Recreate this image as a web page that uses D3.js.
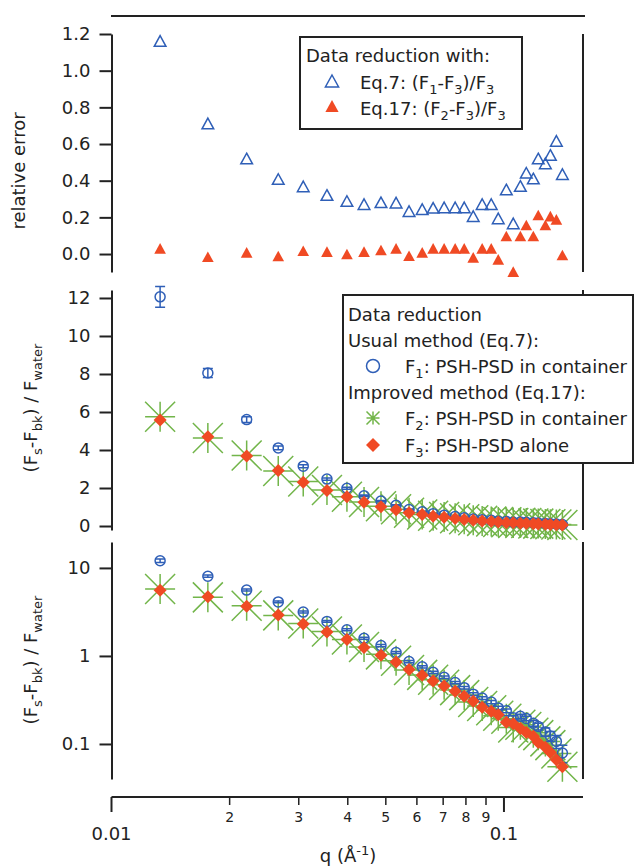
<!DOCTYPE html>
<html>
<head>
<meta charset="utf-8">
<script src="https://cdn.jsdelivr.net/npm/d3@7"></script>
<style>
  body { margin: 0; background: #fff; }
  svg { display: block; }
  text { font-family: "DejaVu Sans", sans-serif; fill: #222; }
</style>
</head>
<body>
<svg id="chart" width="635" height="868"></svg>
<script>
// scattering vector q (1/A), one entry per measured point
var q = [0.0133, 0.0176, 0.0221, 0.0266, 0.0308, 0.0354, 0.0398, 0.0440, 0.0486, 0.0531,
         0.0573, 0.0619, 0.0660, 0.0704, 0.0751, 0.0792, 0.0835, 0.0880, 0.0928, 0.0967,
         0.1014, 0.1056, 0.1101, 0.1140, 0.1188, 0.1223, 0.1275, 0.1313, 0.1360, 0.1409];

// relative errors (top panel)
var relEq7  = [1.162, 0.712, 0.521, 0.409, 0.369, 0.322, 0.289, 0.272, 0.282, 0.280,
               0.234, 0.245, 0.252, 0.254, 0.254, 0.254, 0.207, 0.272, 0.272, 0.194,
               0.352, 0.167, 0.371, 0.443, 0.412, 0.521, 0.494, 0.540, 0.617, 0.436];
var relEq17 = [0.031, -0.015, 0.009, -0.011, 0.018, 0.013, 0.000, 0.013, 0.022, 0.031,
               -0.009, 0.009, 0.031, 0.031, 0.031, 0.031, -0.018, 0.031, 0.031, -0.029,
               0.098, -0.096, 0.098, 0.158, 0.098, 0.213, 0.158, 0.207, 0.189, -0.005];

// (Fs-Fbk)/Fwater curves
var F1    = [12.06, 8.05, 5.60, 4.11, 3.15, 2.47, 1.985, 1.59, 1.31, 1.094,
             0.864, 0.752, 0.651, 0.572, 0.498, 0.436, 0.368, 0.333, 0.299, 0.257,
             0.238, 0.198, 0.206, 0.195, 0.172, 0.158, 0.137, 0.123, 0.107, 0.079];
var F1err = [0.55, 0.24, 0.15, 0.10, 0.08, 0.06, 0.05, 0.04, 0.035, 0.03,
             0.025, 0.022, 0.02, 0.018, 0.016, 0.015, 0.013, 0.012, 0.012, 0.011,
             0.011, 0.011, 0.012, 0.012, 0.013, 0.014, 0.015, 0.016, 0.018, 0.018];
var F2    = [5.75, 4.63, 3.71, 2.89, 2.34, 1.894, 1.54, 1.266, 1.042, 0.881,
             0.694, 0.609, 0.536, 0.470, 0.409, 0.359, 0.300, 0.270, 0.242, 0.209,
             0.193, 0.154, 0.165, 0.156, 0.134, 0.126, 0.107, 0.097, 0.078, 0.055];
var F3    = [5.58, 4.70, 3.68, 2.92, 2.30, 1.87, 1.54, 1.25, 1.02, 0.855,
             0.70, 0.604, 0.52, 0.456, 0.397, 0.348, 0.305, 0.262, 0.235, 0.215,
             0.176, 0.170, 0.150, 0.135, 0.122, 0.104, 0.092, 0.080, 0.066, 0.055];

// ticks
var relTicks = [0, 0.2, 0.4, 0.6, 0.8, 1.0, 1.2];
var linTicks = [0, 2, 4, 6, 8, 10, 12];
var logTicks = [0.1, 1, 10];
var xMajorTicks = [0.01, 0.1];
var xMajorLabels = ["0.01", "0.1"];
var xMinorTicks = [0.02, 0.03, 0.04, 0.05, 0.06, 0.07, 0.08, 0.09];
var xMinorLabels = ["2", "3", "4", "5", "6", "7", "8", "9"];

var blue = "#2f5fb7", red = "#f04a24", green = "#72b54a", ink = "#222";

var svg = d3.select("#chart");

var x = d3.scaleLog().domain([0.01, 0.159]).range([111.5, 583]);
var yRel = d3.scaleLinear().domain([-0.098, 1.2]).range([272, 34]);
var yLin = d3.scaleLinear().domain([-0.21, 12.42]).range([530, 290]);
var yLog = d3.scaleLog().domain([0.04, 19.7]).range([779, 542]);

// little helper for text with sub/superscripts
function rich(sel, parts) {
  var cur = 0;
  parts.forEach(function(p) {
    var shift = p[1] == "sub" ? 5 : p[1] == "sup" ? -7 : 0;
    sel.append("tspan")
      .attr("dy", shift - cur)
      .style("font-size", p[1] ? "13px" : null)
      .text(p[0]);
    cur = shift;
  });
  return sel;
}

// ---- axes ----
function leftAxis(y, ticks, fmt) {
  var g = svg.append("g").attr("transform", "translate(111.5,0)")
    .call(d3.axisLeft(y).tickValues(ticks).tickFormat(fmt)
      .tickSize(12).tickPadding(9).tickSizeOuter(0));
  g.select(".domain").attr("stroke", ink).attr("stroke-width", 2);
  g.selectAll(".tick line").attr("stroke", ink).attr("stroke-width", 2);
  g.selectAll(".tick text").style("font-size", "18px").attr("fill", ink);
  var r = y.range();
  svg.append("line").attr("x1", 583).attr("x2", 583).attr("y1", r[0]).attr("y2", r[1])
    .attr("stroke", ink).attr("stroke-width", 2);
}
leftAxis(yRel, relTicks, d3.format(".1f"));
leftAxis(yLin, linTicks, d3.format("d"));
leftAxis(yLog, logTicks, function(d) { return String(d); });

// top frame line
svg.append("line").attr("x1", 111).attr("x2", 585).attr("y1", 16).attr("y2", 16)
  .attr("stroke", ink).attr("stroke-width", 2);

// bottom x axis (log)
var xAxisY = 797;
svg.append("line").attr("x1", x.range()[0]).attr("x2", x.range()[1])
  .attr("y1", xAxisY).attr("y2", xAxisY).attr("stroke", ink).attr("stroke-width", 2);
svg.selectAll(".xmaj").data(xMajorTicks).enter().append("line")
  .attr("x1", d => x(d)).attr("x2", d => x(d)).attr("y1", xAxisY).attr("y2", xAxisY + 15)
  .attr("stroke", ink).attr("stroke-width", 2);
svg.selectAll(".xmin").data(xMinorTicks).enter().append("line")
  .attr("x1", d => x(d)).attr("x2", d => x(d)).attr("y1", xAxisY).attr("y2", xAxisY + 8)
  .attr("stroke", ink).attr("stroke-width", 1.5);
svg.selectAll(".xmajl").data(xMajorTicks).enter().append("text")
  .attr("x", d => x(d)).attr("y", 840).attr("text-anchor", "middle")
  .style("font-size", "18px").text((d, i) => xMajorLabels[i]);
svg.selectAll(".xminl").data(xMinorTicks).enter().append("text")
  .attr("x", d => x(d)).attr("y", 822).attr("text-anchor", "middle")
  .style("font-size", "14px").text((d, i) => xMinorLabels[i]);

rich(svg.append("text").attr("x", 348).attr("y", 862).attr("text-anchor", "middle")
  .style("font-size", "18px"), [["q (Å"], ["-1", "sup"], [")"]]);

// y titles
svg.append("text").attr("transform", "translate(25,171) rotate(-90)")
  .attr("text-anchor", "middle").style("font-size", "18px").text("relative error");
var yTitle = [["(F"], ["s", "sub"], ["-F"], ["bk", "sub"], [") / F"], ["water", "sub"]];
rich(svg.append("text").attr("transform", "translate(37,408) rotate(-90)")
  .attr("text-anchor", "middle").style("font-size", "18px"), yTitle);
rich(svg.append("text").attr("transform", "translate(37,660) rotate(-90)")
  .attr("text-anchor", "middle").style("font-size", "18px"), yTitle);

// ---- marker shapes ----
function triPath(s) {
  return "M0," + (-s) + "L" + (s * 1.1) + "," + s + "L" + (-s * 1.1) + "," + s + "Z";
}
function diamondPath(s) {
  return "M0," + (-s) + "L" + s + ",0L0," + s + "L" + (-s) + ",0Z";
}
function starPath(s) {
  return "M" + (-s) + ",0L" + s + ",0M0," + (-s) + "L0," + s +
         "M" + (-s) + "," + (-s) + "L" + s + "," + s +
         "M" + (-s) + "," + s + "L" + s + "," + (-s);
}

// ---- top panel: relative error ----
svg.append("g").selectAll("path").data(q).enter().append("path")
  .attr("transform", (d, i) => "translate(" + x(d) + "," + yRel(relEq7[i]) + ")")
  .attr("d", triPath(5.3)).attr("fill", "none").attr("stroke", blue).attr("stroke-width", 1.5);
svg.append("g").selectAll("path").data(q).enter().append("path")
  .attr("transform", (d, i) => "translate(" + x(d) + "," + yRel(relEq17[i]) + ")")
  .attr("d", triPath(5.3)).attr("fill", red);

// ---- middle and bottom panels ----
function drawCurves(y) {
  svg.append("g").selectAll("path").data(q).enter().append("path")
    .attr("transform", (d, i) => "translate(" + x(d) + "," + y(F2[i]) + ")")
    .attr("d", starPath(15)).attr("stroke", green).attr("stroke-width", 1.5).attr("fill", "none");

  var f1 = svg.append("g").selectAll("g").data(q).enter().append("g")
    .attr("stroke", blue).attr("stroke-width", 1.5).attr("fill", "none");
  f1.append("path").attr("d", function(d, i) {
    var cx = x(d), lo = y(F1[i] - F1err[i]), hi = y(F1[i] + F1err[i]);
    return "M" + cx + "," + lo + "L" + cx + "," + hi +
           "M" + (cx - 5) + "," + lo + "L" + (cx + 5) + "," + lo +
           "M" + (cx - 5) + "," + hi + "L" + (cx + 5) + "," + hi;
  });
  f1.append("circle").attr("cx", d => x(d)).attr("cy", (d, i) => y(F1[i])).attr("r", 5);

  svg.append("g").selectAll("path").data(q).enter().append("path")
    .attr("transform", (d, i) => "translate(" + x(d) + "," + y(F3[i]) + ")")
    .attr("d", diamondPath(6.5)).attr("fill", red);
}
drawCurves(yLin);
drawCurves(yLog);

// ---- legend, top panel ----
var lg1 = svg.append("g");
lg1.append("rect").attr("x", 300).attr("y", 37).attr("width", 222).attr("height", 92)
  .attr("fill", "#fff").attr("stroke", ink).attr("stroke-width", 2);
lg1.append("text").attr("x", 306).attr("y", 62).style("font-size", "18px").text("Data reduction with:");
lg1.append("path").attr("transform", "translate(332,81)").attr("d", triPath(6))
  .attr("fill", "none").attr("stroke", blue).attr("stroke-width", 1.5);
lg1.append("path").attr("transform", "translate(332,106)").attr("d", triPath(6)).attr("fill", red);
rich(lg1.append("text").attr("x", 360).attr("y", 89).style("font-size", "18px"),
  [["Eq.7: (F"], ["1", "sub"], ["-F"], ["3", "sub"], [")/F"], ["3", "sub"]]);
rich(lg1.append("text").attr("x", 360).attr("y", 115).style("font-size", "18px"),
  [["Eq.17: (F"], ["2", "sub"], ["-F"], ["3", "sub"], [")/F"], ["3", "sub"]]);

// ---- legend, middle panel ----
var lg2 = svg.append("g");
lg2.append("rect").attr("x", 343).attr("y", 295).attr("width", 290).attr("height", 168)
  .attr("fill", "#fff").attr("stroke", ink).attr("stroke-width", 2);
lg2.append("text").attr("x", 348).attr("y", 321).style("font-size", "18px").text("Data reduction");
lg2.append("text").attr("x", 348).attr("y", 347).style("font-size", "18px").text("Usual method (Eq.7):");
lg2.append("text").attr("x", 348).attr("y", 399).style("font-size", "18px").text("Improved method (Eq.17):");
lg2.append("circle").attr("cx", 373).attr("cy", 366).attr("r", 6.5)
  .attr("fill", "none").attr("stroke", blue).attr("stroke-width", 1.5);
lg2.append("path").attr("transform", "translate(373,418)").attr("d", starPath(6.5))
  .attr("stroke", green).attr("stroke-width", 1.5);
lg2.append("path").attr("transform", "translate(373,445)").attr("d", diamondPath(7)).attr("fill", red);
rich(lg2.append("text").attr("x", 405).attr("y", 373).style("font-size", "18px"),
  [["F"], ["1", "sub"], [": PSH-PSD in container"]]);
rich(lg2.append("text").attr("x", 405).attr("y", 425).style("font-size", "18px"),
  [["F"], ["2", "sub"], [": PSH-PSD in container"]]);
rich(lg2.append("text").attr("x", 405).attr("y", 452).style("font-size", "18px"),
  [["F"], ["3", "sub"], [": PSH-PSD alone"]]);
</script>
</body>
</html>
